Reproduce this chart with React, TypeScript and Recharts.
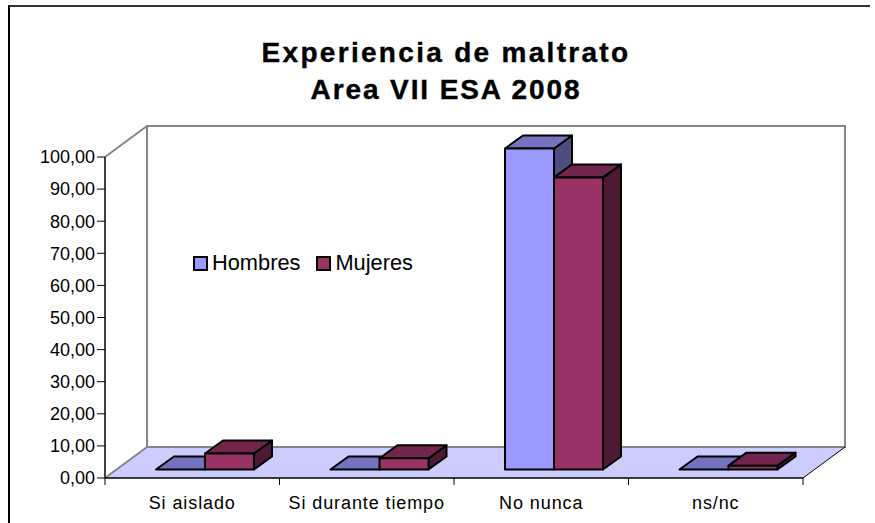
import { BarChart, Bar, XAxis, YAxis, Legend, usePlotArea } from 'recharts';

const categories = ['Si aislado', 'Si durante tiempo', 'No nunca', 'ns/nc'];
const hombres = [0, 0, 100, 0];
const mujeres = [5, 3.5, 91, 1.2];
const yTicks = [0, 10, 20, 30, 40, 50, 60, 70, 80, 90, 100];
const seriesColors = { Hombres: '#9999ff', Mujeres: '#993366' };

const chartData = categories.map((name, i) => ({ name, Hombres: hombres[i], Mujeres: mujeres[i] }));

// fake 3D depth of the plot box and of the bars inside it
const WALL_DX = 42;
const WALL_DY = 31;
const BAR_DX = 18;
const BAR_DY = 13;
const BAR_OFFSET_X = 13;
const BAR_OFFSET_Y = 8.5;

const FONT = '"Liberation Sans", Arial, sans-serif';

function Box() {
  const plot = usePlotArea();
  if (!plot) return null;
  const { x, y, width, height } = plot;
  const bottom = y + height;
  const right = x + width;
  return (
    <g>
      <rect x={x + WALL_DX} y={y - WALL_DY} width={width} height={height} fill="#fff" stroke="#868686" strokeWidth={2} />
      <polygon
        points={`${x},${bottom} ${right},${bottom} ${right + WALL_DX},${bottom - WALL_DY} ${x + WALL_DX},${bottom - WALL_DY}`}
        fill="#ccccff"
      />
      <line x1={x} y1={y} x2={x + WALL_DX} y2={y - WALL_DY} stroke="#868686" strokeWidth={2} />
      <line x1={x} y1={bottom} x2={x + WALL_DX} y2={bottom - WALL_DY} stroke="#868686" strokeWidth={2} />
      <line x1={x + WALL_DX} y1={bottom - WALL_DY} x2={right + WALL_DX} y2={bottom - WALL_DY} stroke="#868686" strokeWidth={2} />
      <line x1={right} y1={bottom} x2={right + WALL_DX} y2={bottom - WALL_DY} stroke="#000" />
      <line x1={x} y1={bottom} x2={right} y2={bottom} stroke="#000" strokeWidth={1.5} />
      {categories.concat('').map((_, i) => {
        const tx = x + (width * i) / categories.length;
        return <line key={i} x1={tx} y1={bottom} x2={tx} y2={bottom + 7} stroke="#000" />;
      })}
      <text x={446} y={62} textAnchor="middle" fontFamily={FONT} fontWeight="bold" fontSize={28} letterSpacing={2.3} stroke="#000" strokeWidth={0.4} fill="#000">
        Experiencia de maltrato
      </text>
      <text x={446} y={99} textAnchor="middle" fontFamily={FONT} fontWeight="bold" fontSize={28} letterSpacing={1.9} stroke="#000" strokeWidth={0.4} fill="#000">
        Area VII ESA 2008
      </text>
    </g>
  );
}

const bar3d = (front: string, top: string, side: string) => (props: any) => {
  const x = props.x + BAR_OFFSET_X;
  const y = props.y - BAR_OFFSET_Y;
  const w = props.width;
  const h = props.height;
  return (
    <g stroke="#000" strokeWidth={2} strokeLinejoin="round">
      <polygon points={`${x + w},${y} ${x + w + BAR_DX},${y - BAR_DY} ${x + w + BAR_DX},${y + h - BAR_DY} ${x + w},${y + h}`} fill={side} />
      <polygon points={`${x},${y} ${x + BAR_DX},${y - BAR_DY} ${x + w + BAR_DX},${y - BAR_DY} ${x + w},${y}`} fill={top} />
      <rect x={x} y={y} width={w} height={h} fill={front} />
    </g>
  );
};

function LegendBox({ payload }: any) {
  return (
    <div style={{ display: 'flex', alignItems: 'center', fontFamily: FONT, fontSize: 21.8, color: '#000' }}>
      {(payload || []).map((p: any) => (
        <div key={p.value} style={{ display: 'flex', alignItems: 'center', marginRight: 16 }}>
          <span style={{ width: 11, height: 11, border: '2px solid #000', background: p.color, marginRight: 4 }} />
          {p.value}
        </div>
      ))}
    </div>
  );
}

export default function App() {
  return (
    <div style={{ position: 'absolute', left: 0, top: 0, width: 875, height: 523, background: '#fff', overflow: 'hidden' }}>
      <div style={{ position: 'absolute', left: 8, top: 5, width: 860, height: 540, borderTop: '2px solid #333', borderLeft: '2px solid #000' }} />
      <BarChart
        width={875}
        height={523}
        data={chartData}
        margin={{ top: 157, right: 72, bottom: 0, left: 0 }}
        barSize={49}
        barGap={0}
        style={{ position: 'absolute', left: 0, top: 0 }}
      >
        <Box />
        <XAxis
          dataKey="name"
          interval={0}
          axisLine={false}
          tickLine={false}
          height={45}
          tick={{ fill: '#000', fontSize: 18, fontFamily: FONT, letterSpacing: 0.9 }}
          tickMargin={12}
        />
        <YAxis
          domain={[0, 100]}
          ticks={yTicks}
          interval={0}
          width={105}
          tickSize={8}
          tickFormatter={(v: number) => v.toFixed(2).replace('.', ',')}
          tick={{ fill: '#000', fontSize: 18, fontFamily: FONT }}
          axisLine={{ stroke: '#000', strokeWidth: 1.5 }}
          tickLine={{ stroke: '#000' }}
        />
        <Legend
          content={<LegendBox />}
          verticalAlign="middle"
          wrapperStyle={{ position: 'absolute', left: 193, top: 250, width: 240, bottom: 'auto' }}
        />
        <Bar dataKey="Hombres" fill={seriesColors.Hombres} isAnimationActive={false} shape={bar3d(seriesColors.Hombres, '#7373bf', '#4d4d80')} />
        <Bar dataKey="Mujeres" fill={seriesColors.Mujeres} isAnimationActive={false} shape={bar3d(seriesColors.Mujeres, '#73264d', '#4d1933')} />
      </BarChart>
    </div>
  );
}
